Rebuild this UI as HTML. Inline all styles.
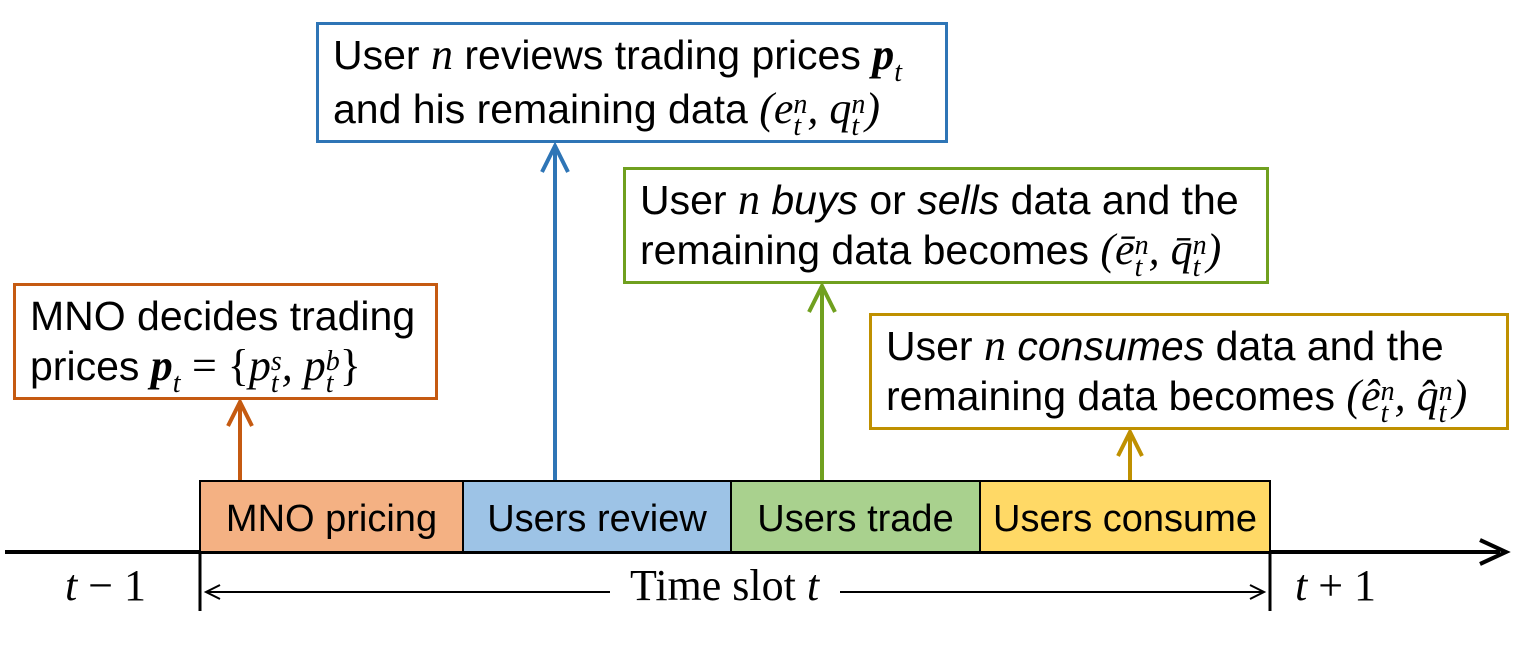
<!DOCTYPE html>
<html><head><meta charset="utf-8"><style>
body{margin:0;width:1532px;height:664px;background:#fff;position:relative;overflow:hidden;font-family:"Liberation Sans",sans-serif;}
.b{position:absolute;box-sizing:border-box;border:3px solid;background:#fff;font-size:41px;line-height:50px;padding:5px 0 0 14px;white-space:nowrap;color:#000}
.m{font-family:"Liberation Serif",serif;font-style:italic;font-size:44px;}
.bf{font-family:"Liberation Serif",serif;font-style:italic;font-weight:bold;font-size:44px;}
.ss{display:inline-block;vertical-align:-12px;line-height:22px;font-family:"Liberation Serif",serif;font-style:italic;font-size:28px;}
.ss span{display:block}
.t{position:absolute;font-family:"Liberation Serif",serif;font-size:44px;top:560px;}
.s{position:absolute;box-sizing:border-box;border:2px solid #000;height:73px;top:480px;font-size:38px;text-align:center;line-height:74px;}
</style></head><body>
<svg width="1532" height="664" style="position:absolute;left:0;top:0">
<line x1="5" y1="552" x2="1500" y2="552" stroke="#000" stroke-width="4"/>
<polyline points="1480,540 1506,552 1480,564" fill="none" stroke="#000" stroke-width="4"/>
<line x1="200" y1="552" x2="200" y2="611" stroke="#000" stroke-width="3"/>
<line x1="1270" y1="552" x2="1270" y2="611" stroke="#000" stroke-width="3"/>
<line x1="206" y1="592" x2="610" y2="592" stroke="#000" stroke-width="2"/>
<line x1="840" y1="592" x2="1264" y2="592" stroke="#000" stroke-width="2"/>
<polyline points="220,585 206,592 220,599" fill="none" stroke="#000" stroke-width="2"/>
<polyline points="1250,585 1264,592 1250,599" fill="none" stroke="#000" stroke-width="2"/>
<g fill="none" stroke-width="4">
<line x1="240" y1="481" x2="240" y2="402" stroke="#C55A11"/><polyline points="228,426 240,402 252,426" stroke="#C55A11"/>
<line x1="555" y1="481" x2="555" y2="146" stroke="#2E75B6"/><polyline points="542,172 555,146 568,172" stroke="#2E75B6"/>
<line x1="822" y1="481" x2="822" y2="286" stroke="#70A01F"/><polyline points="809,312 822,286 835,312" stroke="#70A01F"/>
<line x1="1130" y1="481" x2="1130" y2="432" stroke="#BF9000"/><polyline points="1118,456 1130,432 1142,456" stroke="#BF9000"/>
</g>
</svg>
<div class="s" style="left:199px;width:265px;background:#F4B183">MNO pricing</div>
<div class="s" style="left:462px;width:270px;background:#9DC3E6">Users review</div>
<div class="s" style="left:730px;width:251px;background:#A9D18E">Users trade</div>
<div class="s" style="left:979px;width:292px;background:#FFD966">Users consume</div>
<div class="t" style="left:65px"><i>t</i> − 1</div>
<div class="t" style="left:1295px"><i>t</i> + 1</div>
<div class="t" style="left:630px">Time slot <i>t</i></div>
<div class="b" style="left:13px;top:283px;width:425px;height:117px;border-color:#C55A11">MNO decides trading<br>prices <span class="bf">p</span><span class="ss"><span>&nbsp;</span><span>t</span></span> <span class="m" style="font-style:normal">= {</span><span class="m">p</span><span class="ss"><span>s</span><span>t</span></span><span class="m">, p</span><span class="ss"><span>b</span><span>t</span></span><span class="m" style="font-style:normal">}</span></div>
<div class="b" style="left:316px;top:22px;width:632px;height:121px;border-color:#2E75B6">User <span class="m">n</span> reviews trading prices <span class="bf">p</span><span class="ss"><span>&nbsp;</span><span>t</span></span><br>and his remaining data <span class="m">(e</span><span class="ss"><span>n</span><span>t</span></span><span class="m">, q</span><span class="ss"><span>n</span><span>t</span></span><span class="m">)</span></div>
<div class="b" style="left:623px;top:167px;width:646px;height:117px;border-color:#70A01F">User <span class="m">n</span> <i>buys</i> or <i>sells</i> data and the<br>remaining data becomes <span class="m">(ē</span><span class="ss"><span>n</span><span>t</span></span><span class="m">, q̄</span><span class="ss"><span>n</span><span>t</span></span><span class="m">)</span></div>
<div class="b" style="left:869px;top:313px;width:640px;height:117px;border-color:#BF9000">User <span class="m">n</span> <i>consumes</i> data and the<br>remaining data becomes <span class="m">(ê</span><span class="ss"><span>n</span><span>t</span></span><span class="m">, q̂</span><span class="ss"><span>n</span><span>t</span></span><span class="m">)</span></div>
</body></html>
